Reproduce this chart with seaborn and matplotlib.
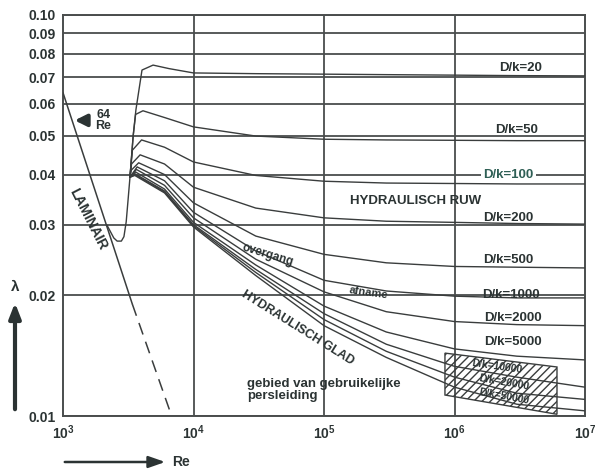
import matplotlib
matplotlib.use("Agg")
import matplotlib.pyplot as plt
import seaborn as sns
import pandas as pd
from matplotlib.patches import Polygon

# ---- data (Re, lambda) ----
LAM_SOLID_RE = [1000, 3400]
LAM_SOLID = [0.064, 0.0190]
LAM_DASH_RE = [3400, 6800]
LAM_DASH = [0.0190, 0.0100]

TRANS_RE = [2175, 2450, 2600, 2800, 2930, 3050, 3150, 3260]
TRANS_LAM = [0.0299, 0.0278, 0.0273, 0.0273, 0.0280, 0.0305, 0.0345, 0.0394]

TAIL_RE = [1e4, 3e4, 1e5, 3e5, 1e6, 3e6, 1e7]

RATIOS = [20, 50, 100, 200, 500, 1000, 2000, 5000, 10000, 20000, 50000]

# rising branch + hump (Re, lambda) per curve
HEAD_RE = {
    20: [3260, 3450, 3620, 4030, 4900, 6500],
    50: [3260, 3450, 3600, 4100, 6000],
    100: [3260, 3400, 4000, 6000],
    200: [3260, 3350, 3900, 6000],
    500: [3260, 3330, 3800, 6000],
    1000: [3260, 3700, 6000],
    2000: [3260, 3650, 6000],
    5000: [3260, 3600, 6000],
    10000: [3260, 3550, 6000],
    20000: [3260, 3550, 6000],
    50000: [3260, 3550, 6000],
}
HEAD_LAM = {
    20: [0.0394, 0.050, 0.058, 0.0729, 0.0750, 0.0735],
    50: [0.0394, 0.050, 0.0565, 0.0577, 0.0555],
    100: [0.0394, 0.046, 0.0488, 0.0468],
    200: [0.0394, 0.0425, 0.0448, 0.0425],
    500: [0.0394, 0.041, 0.0428, 0.0400],
    1000: [0.0394, 0.0418, 0.0386],
    2000: [0.0394, 0.0412, 0.0376],
    5000: [0.0394, 0.0406, 0.0368],
    10000: [0.0394, 0.0402, 0.0364],
    20000: [0.0394, 0.0400, 0.0362],
    50000: [0.0394, 0.0398, 0.0360],
}
TAIL_LAM = {
    20: [0.0717, 0.0714, 0.0712, 0.0710, 0.0708, 0.0706, 0.0705],
    50: [0.0526, 0.0499, 0.0490, 0.0488, 0.0487, 0.0486, 0.0486],
    100: [0.0430, 0.0398, 0.0385, 0.0381, 0.0380, 0.0379, 0.0379],
    200: [0.0372, 0.0330, 0.0312, 0.0306, 0.0304, 0.0302, 0.0301],
    500: [0.0340, 0.0281, 0.0253, 0.0241, 0.0236, 0.0235, 0.0234],
    1000: [0.0322, 0.0258, 0.0218, 0.0205, 0.0199, 0.0197, 0.0197],
    2000: [0.0312, 0.0246, 0.0204, 0.0182, 0.0172, 0.0169, 0.0168],
    5000: [0.0304, 0.0238, 0.0188, 0.0162, 0.0147, 0.0141, 0.0138],
    10000: [0.0300, 0.0232, 0.0180, 0.0151, 0.0133, 0.0125, 0.0118],
    20000: [0.0298, 0.0228, 0.0174, 0.0145, 0.0125, 0.0114, 0.0110],
    50000: [0.0296, 0.0224, 0.0168, 0.0140, 0.0118, 0.0107, 0.0103],
}

Y_TICKS = [0.01, 0.02, 0.03, 0.04, 0.05, 0.06, 0.07, 0.08, 0.09, 0.10]
Y_LABELS = ["0.01", "0.02", "0.03", "0.04", "0.05", "0.06", "0.07", "0.08", "0.09", "0.10"]
X_TICKS = [1e3, 1e4, 1e5, 1e6, 1e7]
X_LABELS = [r"$\mathbf{10^3}$", r"$\mathbf{10^4}$", r"$\mathbf{10^5}$",
            r"$\mathbf{10^6}$", r"$\mathbf{10^7}$"]

LINE = "#3a3d3d"
GRID = "#4a4d4d"
TEXT = "#2b3333"

sns.set_style("white")
plt.rcParams['font.family'] = ['Liberation Sans', 'DejaVu Sans']
plt.rcParams['mathtext.fontset'] = 'custom'
plt.rcParams['mathtext.bf'] = 'Liberation Sans:bold'

fig = plt.figure(figsize=(5.98, 4.72), dpi=100)
ax = fig.add_axes([63 / 598, 1 - 416 / 472, (585 - 63) / 598, (416 - 15) / 472])
ax.set_xscale('log')
ax.set_yscale('log')

# grid
for y in Y_TICKS:
    ax.axhline(y, color=GRID, lw=1.3, zorder=1)
for x in X_TICKS[1:-1]:
    ax.axvline(x, color=GRID, lw=1.3, zorder=1)

# curves
rows = []
for r in RATIOS:
    res = HEAD_RE[r] + TAIL_RE
    lams = HEAD_LAM[r] + TAIL_LAM[r]
    for a, b in zip(res, lams):
        rows.append({"Re": a, "lam": b, "curve": f"D/k={r}"})
df = pd.DataFrame(rows)
sns.lineplot(data=df, x="Re", y="lam", units="curve", estimator=None, sort=False,
             color=LINE, lw=1.0, ax=ax, zorder=3)

sns.lineplot(x=TRANS_RE, y=TRANS_LAM, sort=False, estimator=None, color=LINE, lw=1.0, ax=ax, zorder=3)
sns.lineplot(x=LAM_SOLID_RE, y=LAM_SOLID, sort=False, estimator=None, color=LINE, lw=1.1, ax=ax, zorder=3)
sns.lineplot(x=LAM_DASH_RE, y=LAM_DASH, sort=False, estimator=None, color=LINE, lw=1.1,
             ax=ax, zorder=3, linestyle=(0, (8, 5)))

# hatched area
ax.add_patch(Polygon([(8.45e5, 0.01435), (6.1e6, 0.01325), (6.1e6, 0.0101), (8.45e5, 0.01128)],
                     closed=True, fill=False, hatch='////', edgecolor=LINE, lw=1.0, zorder=2))

ax.set_xlim(1e3, 1e7)
ax.set_ylim(0.01, 0.10)
ax.minorticks_off()
ax.set_yticks(Y_TICKS)
ax.set_yticklabels(Y_LABELS)
ax.set_xticks(X_TICKS)
ax.set_xticklabels(X_LABELS)
ax.tick_params(length=0, pad=5, labelsize=10, colors=TEXT)
for lab in ax.get_yticklabels():
    lab.set_fontweight('bold')
ax.set_xlabel("")
ax.set_ylabel("")
for s in ax.spines.values():
    s.set_color(GRID)
    s.set_linewidth(1.4)

# labels of the curves
bold = dict(fontweight='bold', color=TEXT, ha='center', va='center', zorder=5)
dk_pos = {20: (3.2e6, 0.0737), 50: (3.0e6, 0.0516), 100: (2.6e6, 0.0400), 200: (2.6e6, 0.0312),
          500: (2.6e6, 0.0245), 1000: (2.7e6, 0.0200), 2000: (2.8e6, 0.0176), 5000: (2.8e6, 0.0153)}
for r, (x, y) in dk_pos.items():
    kw = dict(bold)
    if r == 100:
        kw['bbox'] = dict(facecolor='white', edgecolor='none', pad=1.5)
        kw['color'] = '#2f5f55'
    ax.text(x, y, f"D/k={r}", fontsize=9.5, **kw)
ax.text(2.1e6, 0.0133, "D/k=10000", fontsize=7.5, rotation=-8, **bold)
ax.text(2.4e6, 0.0121, "D/k=20000", fontsize=7.5, rotation=-10, **bold)
ax.text(2.4e6, 0.0112, "D/k=50000", fontsize=7.5, rotation=-10, **bold)

ax.text(5.0e5, 0.0343, "HYDRAULISCH RUW", fontsize=9.5, **bold)
ax.text(6.3e4, 0.0166, "HYDRAULISCH GLAD", fontsize=9, rotation=-32, **bold)
ax.text(3.7e4, 0.0252, "overgang", fontsize=8.5, rotation=-17, **bold)
ax.text(2.2e5, 0.0203, "afname", fontsize=8, rotation=-8, **bold)
ax.text(1.55e3, 0.0310, "LAMINAIR", fontsize=10, rotation=-63, **bold)
ax.text(2.57e4, 0.0116, "gebied van gebruikelijke\npersleiding", fontsize=9.5,
        ha='left', va='center', fontweight='bold', color=TEXT, linespacing=0.95, zorder=5)
ax.text(2030, 0.0547, "64\nRe", fontsize=9, ha='center', va='center', fontweight='bold',
        color=TEXT, linespacing=0.9, zorder=5)
ax.annotate("", xy=(1170, 0.0546), xytext=(1600, 0.0546),
            arrowprops=dict(arrowstyle='-|>,head_width=0.35,head_length=0.7', lw=2.8, color=TEXT))

# axis arrows outside the plot
ax.annotate("", xy=(15, 472 - 300), xytext=(15, 472 - 412), xycoords='figure pixels',
            textcoords='figure pixels',
            arrowprops=dict(arrowstyle='-|>,head_width=0.35,head_length=0.9', lw=3, color=TEXT))
fig.text(15 / 598, 1 - 294 / 472, "λ", fontsize=11, fontweight='bold', color=TEXT,
         ha='center', va='bottom')
ax.annotate("", xy=(168, 472 - 462), xytext=(62, 472 - 462), xycoords='figure pixels',
            textcoords='figure pixels',
            arrowprops=dict(arrowstyle='-|>,head_width=0.35,head_length=1.0', lw=1.8, color=TEXT))
fig.text(172 / 598, 1 - 462 / 472, "Re", fontsize=10, fontweight='bold', color=TEXT,
         ha='left', va='center')

fig.savefig("out.png", dpi=100)
